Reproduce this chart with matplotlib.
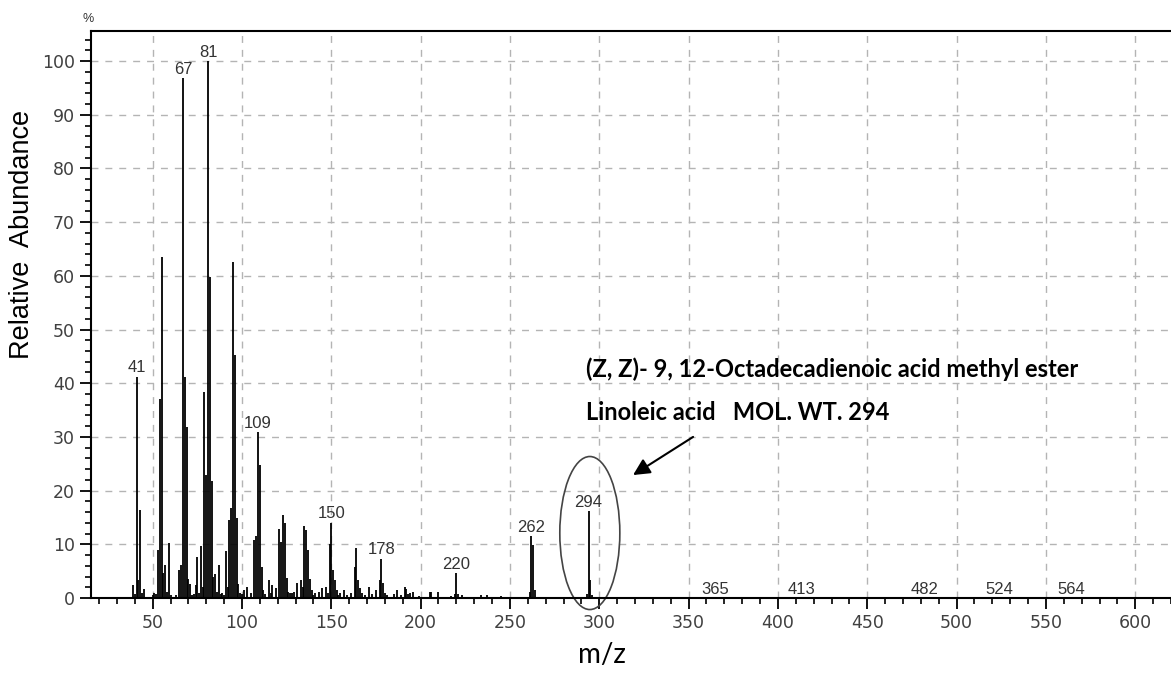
import matplotlib
matplotlib.use("Agg")
from matplotlib import pyplot as plt
from matplotlib.patches import Ellipse
from matplotlib.ticker import MultipleLocator

# peak list (m/z, relative abundance %)
mz = [39, 40, 41, 42, 43, 44, 45, 50, 51, 52, 53, 54, 55, 56, 57, 58, 59, 60, 63,
      65, 66, 67, 68, 69, 70, 71, 72, 73, 74, 75, 76, 77, 78, 79, 80, 81, 82, 83,
      84, 85, 86, 87, 88, 89, 90, 91, 92, 93, 94, 95, 96, 97, 98, 99, 100, 101,
      103, 105, 107, 108, 109, 110, 111, 112, 113, 115, 116, 117, 119, 121, 122,
      123, 124, 125, 126, 127, 128, 129, 131, 133, 134, 135, 136, 137, 138, 139,
      140, 141, 143, 145, 147, 148, 149, 150, 151, 152, 153, 154, 155, 157, 159,
      161, 163, 164, 165, 166, 167, 169, 171, 173, 175, 177, 178, 179, 180, 181,
      185, 187, 189, 191, 192, 193, 194, 196, 199, 205, 206, 210, 217, 219, 220,
      221, 223, 234, 237, 245, 261, 262, 263, 264, 293, 294, 295, 296]
abundance = [2.5, 0.8, 41.2, 3.3, 16.3, 1.0, 1.6, 0.5, 1.0, 0.8, 8.9, 37.0, 63.6,
             4.6, 6.2, 1.2, 10.2, 0.6, 0.5, 5.2, 6.2, 96.8, 41.2, 31.9, 3.5, 2.7,
             0.6, 0.8, 2.5, 7.7, 1.0, 9.6, 2.0, 38.4, 22.9, 100.0, 59.8, 21.7, 4.0,
             4.5, 1.2, 6.2, 0.8, 1.0, 0.6, 8.8, 2.0, 14.5, 16.7, 62.5, 45.2, 14.9,
             2.6, 1.0, 0.8, 1.5, 2.0, 1.0, 10.8, 11.5, 30.9, 24.8, 5.7, 1.5, 0.8,
             3.3, 1.0, 2.5, 1.8, 12.9, 10.5, 15.5, 13.9, 3.7, 1.2, 1.0, 1.0, 1.2,
             2.8, 3.3, 2.0, 13.4, 12.7, 9.0, 3.6, 1.5, 0.6, 1.0, 1.2, 1.8, 2.0, 1.0,
             10.0, 14.0, 5.3, 3.3, 1.5, 0.6, 1.0, 1.5, 0.5, 1.0, 5.8, 9.4, 3.3, 1.8,
             1.0, 0.5, 2.0, 0.8, 1.5, 3.3, 7.3, 2.8, 1.0, 0.5, 0.8, 1.5, 0.5, 2.0,
             1.7, 0.8, 1.0, 1.2, 0.4, 1.2, 1.2, 1.2, 0.4, 0.8, 4.6, 0.8, 0.6, 0.6,
             0.5, 0.3, 1.2, 11.5, 9.8, 1.5, 0.8, 16.2, 3.3, 0.5]

label_mz = [41, 67, 81, 109, 150, 178, 220, 262, 294, 365, 413, 482, 524, 564]
label_val = [41.2, 96.8, 100.0, 30.9, 14.0, 7.3, 4.6, 11.5, 16.2, 0, 0, 0, 0, 0]

title1 = "(Z, Z)- 9, 12-Octadecadienoic acid methyl ester"
title2 = "Linoleic acid   MOL. WT. 294"

fig = plt.figure(figsize=(11.71, 6.75), dpi=100)
ax = fig.add_axes([91 / 1171, 77 / 675, 1 - 91 / 1171, (598 - 31) / 675])

ax.vlines(mz, 0, abundance, color='black', linewidth=1.3)

ax.set_xlim(15.5, 620)
ax.set_ylim(0, 105.6)

ax.xaxis.set_major_locator(MultipleLocator(50))
ax.xaxis.set_minor_locator(MultipleLocator(10))
ax.yaxis.set_major_locator(MultipleLocator(10))
ax.yaxis.set_minor_locator(MultipleLocator(2))
ax.tick_params(which='major', direction='out', length=8, width=1.3,
               labelsize=12.5, labelcolor='#404040')
ax.tick_params(which='minor', direction='out', length=4, width=1.2)
ax.set_xticks(range(50, 601, 50))
ax.set_yticks(range(0, 101, 10))

ax.grid(True, which='major', color='#b4b4b4', linestyle=(0, (5, 5)), linewidth=1)
ax.set_axisbelow(True)
ax.spines['right'].set_visible(False)
for s in ['left', 'bottom', 'top']:
    ax.spines[s].set_linewidth(1.5)

for m, v in zip(label_mz, label_val):
    ax.annotate(str(m), (m, v), xytext=(0, 1), textcoords='offset points',
                ha='center', va='bottom', fontsize=12, color='#333333',
                family='Liberation Sans')

# circle around molecular ion and arrow
ax.add_patch(Ellipse((294.7, 12.1), 33.6, 28.5, fill=False, edgecolor='#444444',
                     linewidth=1.2, clip_on=False))
ax.annotate('', xy=(318.9, 22.9), xytext=(352.5, 30.0),
            arrowprops=dict(arrowstyle='-|>', color='black', lw=1.5,
                            mutation_scale=25, shrinkA=0, shrinkB=0))

fig.text(586 / 1171, 1 - 377 / 675, title1, fontsize=17, fontweight='bold',
         family='Lato', ha='left', va='baseline')
fig.text(586 / 1171, 1 - 420 / 675, title2, fontsize=17, fontweight='bold',
         family='Lato', ha='left', va='baseline')

fig.text(22 / 1171, 1 - 234 / 675, 'Relative  Abundance', rotation=90,
         fontsize=19.5, ha='center', va='center', family='Liberation Sans')
fig.text(602 / 1171, 1 - 655 / 675, 'm/z', fontsize=20, ha='center',
         va='center', family='Lato')
fig.text(88 / 1171, 1 - 19 / 675, '%', fontsize=9, ha='center', va='center',
         color='#333333', family='Liberation Sans')

fig.savefig('out.png', dpi=100)
